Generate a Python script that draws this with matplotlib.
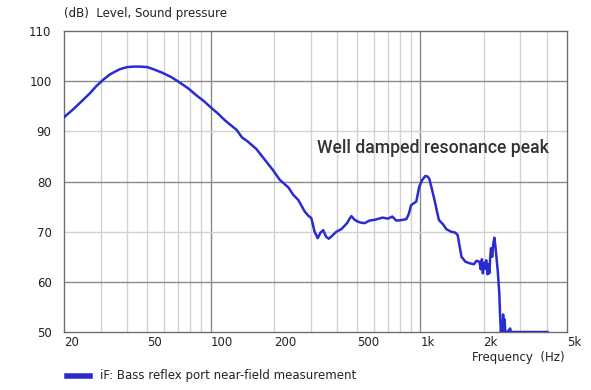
import matplotlib
matplotlib.use("Agg")
import matplotlib.pyplot as plt
from matplotlib.ticker import FixedLocator, NullFormatter, NullLocator

# values
freq = [20, 22, 24, 26.6, 28.5, 30.8, 33, 35, 37, 40, 43, 46, 50, 54, 59.4, 65,
        71.4, 78, 86, 93, 100, 108, 117, 125, 133, 141, 150, 165, 180, 198, 214,
        235, 247, 262, 281, 292, 302, 313, 324, 334, 344, 355, 366, 380, 398, 420,
        447, 460, 469, 485, 504, 520, 542, 572, 610, 660, 700, 735, 768, 810, 857,
        880, 904, 956, 988, 1020, 1056, 1080, 1102, 1130, 1168, 1200, 1226, 1280,
        1330, 1400, 1470, 1506, 1570, 1640, 1718, 1800, 1850, 1912, 1940, 1965,
        1986, 2010, 2030, 2060, 2090, 2110, 2131, 2150, 2170, 2200, 2230, 2254,
        2280, 2312, 2340, 2378, 2395, 2410, 2422, 2440, 2460, 2480, 2500, 2520,
        2540, 2600, 2680, 2700, 3000, 3500, 4040]
level = [92.8, 94.3, 95.8, 97.6, 99.0, 100.3, 101.3, 101.9, 102.4, 102.8, 102.9,
         102.9, 102.8, 102.3, 101.6, 100.8, 99.7, 98.6, 97.1, 96.0, 94.8, 93.6,
         92.2, 91.2, 90.3, 88.8, 88.0, 86.5, 84.5, 82.3, 80.3, 78.8, 77.4, 76.3,
         74.0, 73.2, 72.7, 70.0, 68.7, 69.8, 70.3, 69.0, 68.6, 69.2, 70.0, 70.5,
         71.7, 72.6, 73.1, 72.4, 72.0, 71.8, 71.7, 72.2, 72.4, 72.8, 72.6, 73.0,
         72.2, 72.3, 72.5, 73.5, 75.3, 76.0, 79.0, 80.3, 81.1, 81.0, 80.6, 78.8,
         76.3, 74.0, 72.3, 71.5, 70.5, 70.0, 69.8, 69.3, 65.0, 64.0, 63.7, 63.5,
         64.2, 64.0, 62.5, 64.5, 61.7, 63.8, 62.6, 64.3, 61.5, 63.5, 61.7, 64.5,
         66.7, 65.0, 67.8, 68.8, 67.0, 64.3, 62.0, 57.7, 54.0, 51.5, 50.0, 52.0,
         50.0, 53.5, 50.0, 52.5, 50.0, 50.0, 50.7, 50.0, 50.0, 50.0, 50.0]

x_ticks = [20, 50, 100, 200, 500, 1000, 2000, 5000]
x_labels = ["20", "50", "100", "200", "500", "1k", "2k", "5k"]
y_ticks = [50, 60, 70, 80, 90, 100, 110]

light_x = [30, 40, 50, 60, 70, 80, 90, 200, 300, 400, 500, 600, 700, 800, 900,
           2000, 3000, 4000]
dark_x = [100, 1000]

plt.rcParams['font.family'] = ['DejaVu Sans']
fig = plt.figure(figsize=(5.91, 3.90), dpi=100)
ax = fig.add_axes([64 / 591, 58 / 390, 503 / 591, 301 / 390])

ax.set_xscale('log')
ax.set_xlim(20, 5000)
ax.set_ylim(50, 110)

# grid
for f in light_x:
    ax.axvline(f, color='#d2d2d2', lw=1, zorder=0)
for f in dark_x:
    ax.axvline(f, color='#8a8a8a', lw=1, zorder=0)
for v in [70, 90]:
    ax.axhline(v, color='#d2d2d2', lw=1, zorder=0)
for v in [60, 80, 100]:
    ax.axhline(v, color='#8a8a8a', lw=1, zorder=0)

ax.plot(freq, level, color='#2b2bd2', lw=1.8, zorder=3)

ax.xaxis.set_major_locator(FixedLocator(x_ticks))
ax.xaxis.set_minor_locator(NullLocator())
ax.xaxis.set_minor_formatter(NullFormatter())
ax.set_xticklabels(x_labels)
for lab in ax.get_xticklabels():
    lab.set_horizontalalignment('left')
ax.set_yticks(y_ticks)
ax.tick_params(axis='both', length=0, labelsize=8.5, colors='#222222')
ax.tick_params(axis='x', pad=3)
ax.tick_params(axis='y', pad=9)

for s in ax.spines.values():
    s.set_color('#6e6e6e')
    s.set_linewidth(1)

fig.text(64 / 591, 1 - 13 / 390, "(dB)  Level, Sound pressure", fontsize=8.5,
         color='#222222', va='center', ha='left')
fig.text(565 / 591, 1 - 357 / 390, "Frequency  (Hz)", fontsize=8.5,
         color='#222222', va='center', ha='right')

fig.text(433 / 591, 1 - 148 / 390, "Well damped resonance peak", fontsize=12.7,
         fontfamily='Roboto', fontweight='medium', color='#333333',
         ha='center', va='center', zorder=4)

# legend
fig.add_artist(plt.Line2D([67 / 591, 90 / 591], [1 - 376 / 390, 1 - 376 / 390],
                          color='#2b2bd2', lw=4, transform=fig.transFigure))
fig.text(100 / 591, 1 - 375 / 390, "iF: Bass reflex port near-field measurement",
         fontsize=8.5, color='#222222', va='center', ha='left')

fig.savefig("out.png", dpi=100)
